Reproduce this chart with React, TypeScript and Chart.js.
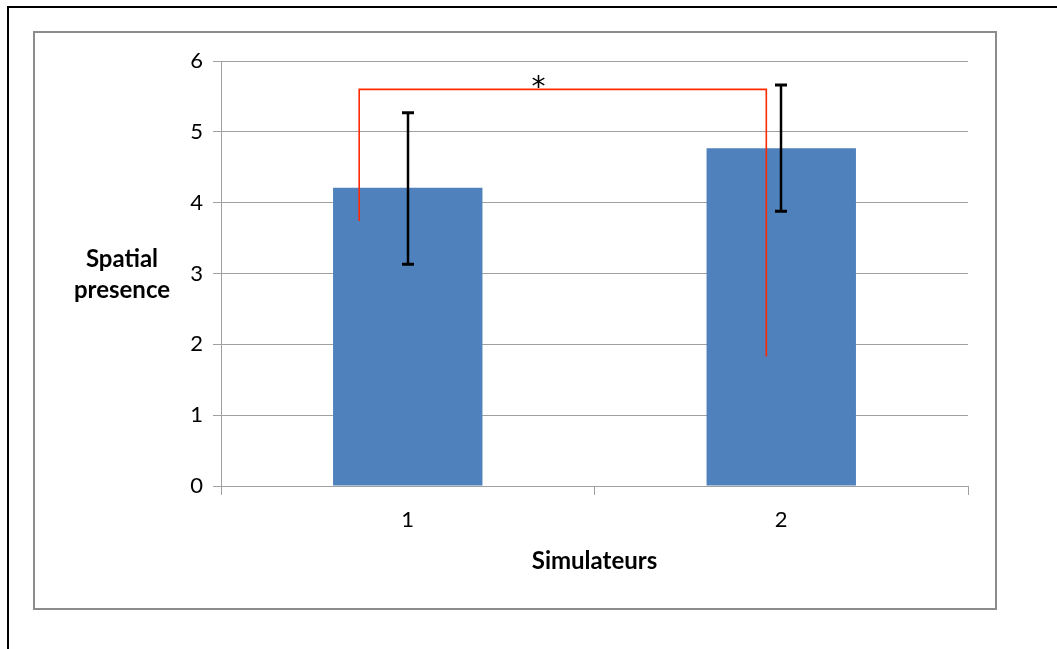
import React, { useEffect, useRef } from "react";
import { Chart, registerables } from "chart.js";

Chart.register(...registerables);

const categories = ["1", "2"];
const means = [4.21, 4.77];
const errLow = [3.13, 3.88];
const errHigh = [5.27, 5.66];
const yMin = 0;
const yMax = 6;
const yStep = 1;
const yTitleLines = ["Spatial", "presence"];
const xTitle = "Simulateurs";
// significance bracket (in data units: category index / value)
const bracketX = [-0.13, 0.96];
const bracketTop = 5.6;
const bracketBottoms = [3.74, 1.83];
const sigLabel = "*";
const sigX = 0.35;
const sigY = 5.75;

const FONT = "Lato, 'Open Sans', sans-serif";
const W = 1057;
const H = 649;

export default function App() {
  const ref = useRef<HTMLCanvasElement | null>(null);
  useEffect(() => {
    if (!ref.current) return;
    const decor = {
      id: "decor",
      beforeDraw(chart: any) {
        const ctx = chart.ctx;
        ctx.save();
        ctx.fillStyle = "#ffffff";
        ctx.fillRect(0, 0, W, H);
        // outer black frame
        ctx.fillStyle = "#000000";
        ctx.fillRect(7, 6, W - 7, 2);
        ctx.fillRect(7, 6, 2, H - 6);
        // gray chart frame
        ctx.strokeStyle = "#8c8c8c";
        ctx.lineWidth = 2;
        ctx.strokeRect(34, 32, 962, 577);
        ctx.restore();
      },
      afterDatasetsDraw(chart: any) {
        const ctx = chart.ctx;
        const xs = chart.scales.x;
        const ys = chart.scales.y;
        ctx.save();
        // error bars
        ctx.strokeStyle = "#000000";
        for (let i = 0; i < means.length; i++) {
          const x = Math.round(xs.getPixelForValue(i));
          const yl = ys.getPixelForValue(errLow[i]);
          const yh = ys.getPixelForValue(errHigh[i]);
          ctx.lineWidth = 2.5;
          ctx.beginPath();
          ctx.moveTo(x, yl);
          ctx.lineTo(x, yh);
          ctx.stroke();
          ctx.lineWidth = 3;
          ctx.beginPath();
          ctx.moveTo(x - 6, yl);
          ctx.lineTo(x + 6, yl);
          ctx.moveTo(x - 6, yh);
          ctx.lineTo(x + 6, yh);
          ctx.stroke();
        }
        // significance bracket
        const px = (v: number) => xs.getPixelForDecimal((v + 0.5) / categories.length);
        const x0 = px(bracketX[0]);
        const x1 = px(bracketX[1]);
        const yt = ys.getPixelForValue(bracketTop);
        ctx.strokeStyle = "#ff2a00";
        ctx.lineWidth = 1.6;
        ctx.beginPath();
        ctx.moveTo(x0, ys.getPixelForValue(bracketBottoms[0]));
        ctx.lineTo(x0, yt);
        ctx.lineTo(x1, yt);
        ctx.lineTo(x1, ys.getPixelForValue(bracketBottoms[1]));
        ctx.stroke();
        ctx.fillStyle = "#000000";
        ctx.font = "28px 'DejaVu Sans', sans-serif";
        ctx.textAlign = "center";
        ctx.textBaseline = "alphabetic";
        ctx.fillText(sigLabel, px(sigX), ys.getPixelForValue(sigY) + 17);
        ctx.restore();
      },
      afterDraw(chart: any) {
        const ctx = chart.ctx;
        const ca = chart.chartArea;
        ctx.save();
        ctx.fillStyle = "#000000";
        ctx.font = `bold 24px ${FONT}`;
        ctx.textAlign = "center";
        ctx.textBaseline = "middle";
        ctx.fillText(yTitleLines[0], 122, 259);
        ctx.fillText(yTitleLines[1], 122, 290);
        ctx.fillText(xTitle, (ca.left + ca.right) / 2, 561);
        ctx.restore();
      },
    };
    const chart = new Chart(ref.current, {
      type: "bar",
      data: {
        labels: categories,
        datasets: [
          {
            data: means,
            backgroundColor: "#4f81bd",
            borderColor: "#4f81bd",
            borderWidth: 0,
            barPercentage: 0.4,
            categoryPercentage: 1,
          },
        ],
      },
      options: {
        responsive: false,
        animation: false,
        events: [],
        layout: { padding: { left: 0, top: 61, right: 89, bottom: 0 } },
        plugins: { legend: { display: false }, tooltip: { enabled: false } },
        scales: {
          x: {
            offset: true,
            grid: {
              offset: true,
              drawOnChartArea: false,
              drawTicks: true,
              tickLength: 9,
              color: "#a0a0a0",
            },
            border: { color: "#a0a0a0", width: 1 },
            ticks: {
              color: "#000000",
              font: { family: FONT, size: 22 },
              padding: 12,
            },
            afterFit(scale: any) {
              scale.height = H - 486;
            },
          },
          y: {
            min: yMin,
            max: yMax,
            grid: { color: "#a0a0a0", tickLength: 8, lineWidth: 1 },
            border: { color: "#a0a0a0", width: 1 },
            ticks: {
              stepSize: yStep,
              color: "#000000",
              font: { family: FONT, size: 22 },
              padding: 10,
            },
            afterFit(scale: any) {
              scale.width = 221;
            },
          },
        },
      },
      plugins: [decor],
    });
    return () => chart.destroy();
  }, []);
  return (
    <div style={{ position: "absolute", left: 0, top: 0, width: W, height: H }}>
      <canvas ref={ref} width={W} height={H} style={{ display: "block" }} />
    </div>
  );
}
